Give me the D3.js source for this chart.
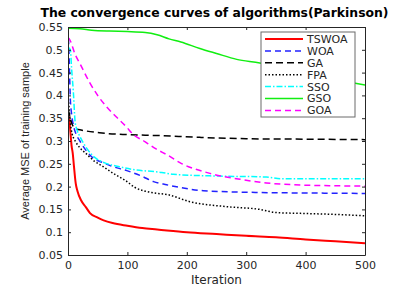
<!DOCTYPE html>
<html>
<head>
<meta charset="utf-8">
<script src="https://cdn.jsdelivr.net/npm/d3@7"></script>
<style>
  body { margin: 0; background: #fff; }
  svg { display: block; }
  .tick text { font-family: "DejaVu Sans", sans-serif; font-size: 11px; fill: #262626; }
</style>
</head>
<body>
<figure style="margin:0"></figure>
<script>
// series: [iteration, average MSE]
var names = ["TSWOA", "WOA", "GA", "FPA", "SSO", "GSO", "GOA"];

var tswoa = [[0,0.357],[2,0.35],[4,0.32],[6,0.29],[8,0.273],[10,0.245],[13,0.207],[16,0.19],[22,0.17],[30,0.155],[37,0.142],[50,0.132],[60,0.126],[75,0.12],[100,0.114],[125,0.109],[150,0.106],[200,0.1],[250,0.096],[300,0.092],[350,0.089],[400,0.084],[450,0.08],[500,0.076]];
var woa = [[0,0.547],[2,0.48],[3,0.43],[4,0.39],[6,0.36],[9,0.335],[13,0.317],[20,0.3],[30,0.28],[45,0.26],[58,0.253],[73,0.245],[99,0.235],[124,0.223],[144,0.211],[166,0.204],[189,0.198],[228,0.191],[323,0.187],[400,0.186],[500,0.185]];
var ga = [[0,0.37],[3,0.355],[6,0.34],[10,0.33],[15,0.326],[22,0.324],[53,0.318],[100,0.314],[150,0.312],[222,0.308],[300,0.305],[400,0.304],[500,0.303]];
var fpa = [[0,0.40],[2,0.37],[4,0.34],[7,0.315],[10,0.305],[13,0.298],[20,0.285],[30,0.273],[45,0.255],[58,0.245],[68,0.236],[80,0.226],[96,0.214],[113,0.198],[141,0.187],[169,0.182],[205,0.167],[267,0.156],[323,0.15],[351,0.143],[400,0.141],[450,0.139],[500,0.136]];
var sso = [[0,0.505],[4,0.50],[6,0.46],[9,0.408],[12,0.342],[15,0.325],[20,0.31],[30,0.287],[45,0.264],[62,0.252],[85,0.244],[107,0.238],[158,0.231],[177,0.227],[256,0.223],[334,0.221],[360,0.217],[400,0.217],[500,0.217]];
var gso = [[0,0.547],[20,0.546],[40,0.543],[70,0.541],[100,0.540],[130,0.538],[150,0.533],[170,0.524],[190,0.517],[222,0.503],[250,0.492],[284,0.479],[323,0.471],[360,0.46],[400,0.448],[430,0.44],[460,0.432],[486,0.426],[500,0.423]];
var goa = [[0,0.527],[3,0.522],[12,0.49],[20,0.47],[37,0.427],[51,0.398],[65,0.375],[82,0.352],[99,0.33],[107,0.318],[130,0.298],[149,0.282],[169,0.268],[189,0.252],[239,0.229],[290,0.216],[334,0.208],[380,0.204],[440,0.202],[500,0.201]];

var xTicks = [0, 100, 200, 300, 400, 500];
var yTicks = [0.05, 0.1, 0.15, 0.2, 0.25, 0.3, 0.35, 0.4, 0.45, 0.5, 0.55];

var series = [tswoa, woa, ga, fpa, sso, gso, goa];
var colors = ["#ff0000", "#2222ff", "#000000", "#000000", "#00ffff", "#11ee11", "#ff00ff"];
var dashes = ["none", "6,4", "7,4", "1.5,2", "6,2,1.5,2", "none", "6,4"];
var widths = [2, 1.5, 1.5, 1.5, 1.5, 1.5, 1.5];

var W = 404, H = 293;
var margin = {top: 27, right: 39, bottom: 38, left: 68},
    width = W - margin.left - margin.right,
    height = H - margin.top - margin.bottom;

var svg = d3.select("figure").append("svg")
        .attr("width", W)
        .attr("height", H);

var g = svg.append("g")
        .attr("transform", "translate(" + margin.left + "," + margin.top + ")");

var x = d3.scaleLinear().domain([0, 500]).range([0, width]);
var y = d3.scaleLinear().domain([0.05, 0.55]).range([height, 0]);

g.append("clipPath").attr("id", "clip")
    .append("rect").attr("width", width).attr("height", height);

// lines
var line = d3.line()
        .curve(d3.curveMonotoneX)
        .x(function(d) { return x(d[0]); })
        .y(function(d) { return y(d[1]); });

g.append("g").attr("clip-path", "url(#clip)")
    .selectAll("path")
    .data(series)
    .enter().append("path")
    .attr("d", line)
    .attr("fill", "none")
    .attr("stroke", function(d, i) { return colors[i]; })
    .attr("stroke-width", function(d, i) { return widths[i]; })
    .attr("stroke-dasharray", function(d, i) { return dashes[i]; });

// axes, ticks inside on all four sides
var fmt = function(v) { return String(+v.toFixed(2)); };

var xaxis = d3.axisBottom(x).tickValues(xTicks).tickSizeInner(-3).tickSizeOuter(0).tickPadding(6);
var yaxis = d3.axisLeft(y).tickValues(yTicks).tickFormat(fmt).tickSizeInner(-3).tickSizeOuter(0).tickPadding(5);

g.append("g").attr("class", "x axis")
    .attr("transform", "translate(0," + height + ")")
    .call(xaxis);
g.append("g").attr("class", "y axis")
    .call(yaxis);
g.append("g")
    .call(d3.axisTop(x).tickValues(xTicks).tickSizeInner(-3).tickSizeOuter(0).tickFormat(""));
g.append("g")
    .attr("transform", "translate(" + width + ",0)")
    .call(d3.axisRight(y).tickValues(yTicks).tickSizeInner(-3).tickSizeOuter(0).tickFormat(""));

g.selectAll(".domain, .tick line").attr("stroke", "#262626");

// legend
var lg = g.append("g").attr("transform", "translate(" + (261 - margin.left) + "," + (32 - margin.top) + ")");
lg.append("rect")
    .attr("width", 94).attr("height", 85)
    .attr("fill", "#fff").attr("stroke", "#6a6a6a").attr("stroke-width", 1);

var item = lg.selectAll(".item")
        .data(names)
        .enter().append("g")
        .attr("transform", function(d, i) { return "translate(0," + (7 + i * 11.9) + ")"; });

item.append("line")
    .attr("x1", 4).attr("x2", 42)
    .attr("stroke", function(d, i) { return colors[i]; })
    .attr("stroke-width", function(d, i) { return widths[i]; })
    .attr("stroke-dasharray", function(d, i) { return dashes[i]; });

item.append("text")
    .attr("x", 46).attr("dy", "0.36em")
    .style("font-family", "DejaVu Sans, sans-serif")
    .style("font-size", "11px")
    .attr("fill", "#262626")
    .text(function(d) { return d; });

// titles
svg.append("text")
    .attr("x", margin.left + width / 2 - 2).attr("y", 17)
    .attr("text-anchor", "middle")
    .style("font-family", "DejaVu Sans, sans-serif")
    .style("font-size", "12.4px").style("font-weight", "bold")
    .text("The convergence curves of algorithms(Parkinson)");

svg.append("text")
    .attr("x", margin.left + width / 2).attr("y", 284)
    .attr("text-anchor", "middle")
    .style("font-family", "DejaVu Sans, sans-serif")
    .style("font-size", "12px")
    .attr("fill", "#262626")
    .text("Iteration");

svg.append("text")
    .attr("transform", "translate(29," + (margin.top + height / 2) + ") rotate(-90)")
    .attr("text-anchor", "middle")
    .style("font-family", "Liberation Sans, Arial, sans-serif")
    .style("font-size", "11px")
    .attr("fill", "#262626")
    .text("Average MSE of training sample");
</script>
</body>
</html>
